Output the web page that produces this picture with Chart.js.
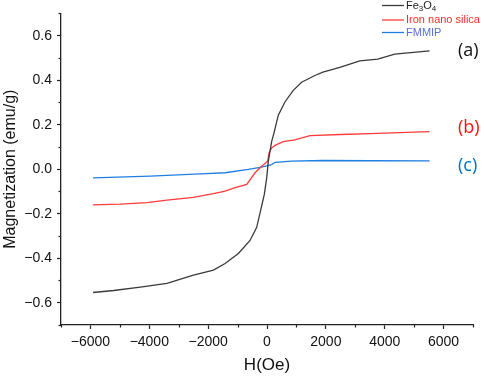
<!DOCTYPE html>
<html lang="en">
<head>
  <meta charset="UTF-8">
  <title>Magnetization curves</title>
  <script src="https://cdn.jsdelivr.net/npm/chart.js"></script>
  <style>
    html, body { margin: 0; padding: 0; background: #fff; }
    #wrap { width: 484px; height: 377px; }
  </style>
</head>
<body>
  <div id="wrap"><canvas id="mh-graph"></canvas></div>

  <script>
    // values (H in Oe, M in emu/g)
    const feH = [-5910, -5210, -4305, -3400, -2500, -1820, -1424, -973, -576, -350, -190, -90, -10, 45, 158, 249, 384, 610, 892, 1176, 1627, 1900, 2475, 3153, 3763, 4340, 5525];
    const feM = [-0.554, -0.545, -0.530, -0.513, -0.476, -0.453, -0.424, -0.379, -0.320, -0.261, -0.170, -0.112, -0.039, 0.036, 0.124, 0.169, 0.243, 0.302, 0.354, 0.391, 0.421, 0.436, 0.458, 0.487, 0.495, 0.517, 0.532];

    const silicaH = [-5910, -4983, -4078, -3400, -2500, -1820, -1424, -1085, -688, -407, -180, 24, 68, 158, 271, 553, 949, 1458, 2500, 3500, 4500, 5525];
    const silicaM = [-0.160, -0.157, -0.150, -0.139, -0.127, -0.110, -0.098, -0.083, -0.068, -0.016, 0.013, 0.036, 0.073, 0.095, 0.107, 0.124, 0.132, 0.151, 0.156, 0.160, 0.164, 0.169];

    const fmmipH = [-5910, -3966, -2271, -1424, -634, -180, 158, 271, 837, 1910, 3500, 5525];
    const fmmipM = [-0.039, -0.031, -0.021, -0.016, -0.001, 0.009, 0.021, 0.031, 0.036, 0.039, 0.038, 0.037];

    const seriesLabels = ['Fe3O4', 'Iron nano silica', 'FMMIP'];
    const seriesTags = ['(a)', '(b)', '(c)'];
    const tagValues = [0.532, 0.169, 0.037];

    const xTicks = [-6000, -4000, -2000, 0, 2000, 4000, 6000];
    const yTicks = [-0.6, -0.4, -0.2, 0.0, 0.2, 0.4, 0.6];

    const lineColors = ['#3a3a3a', '#ff3b3b', '#1f7fe0'];
    const legendTextColors = ['#222222', '#ff2a2a', '#5b6de6'];
    const tagColors = ['#111111', '#ff1010', '#0070c0'];

    function toPoints(xs, ys) {
      return xs.map((x, i) => ({ x: x, y: ys[i] }));
    }

    const minus = s => String(s).replace('-', '\u2212');

    // minor ticks, legend and (a)(b)(c) tags
    const extras = {
      id: 'extras',
      afterDraw(chart) {
        const ctx = chart.ctx;
        const xs = chart.scales.x;
        const ys = chart.scales.y;
        ctx.save();
        ctx.strokeStyle = '#222';
        ctx.lineWidth = 1.2;
        for (let v = -7000; v <= 7000; v += 2000) {
          const px = Math.round(xs.getPixelForValue(v)) + 0.5;
          ctx.beginPath();
          ctx.moveTo(px, xs.top);
          ctx.lineTo(px, xs.top + 2.5);
          ctx.stroke();
        }
        for (let k = -7; k <= 7; k += 2) {
          const py = Math.round(ys.getPixelForValue(k / 10)) + 0.5;
          ctx.beginPath();
          ctx.moveTo(ys.right, py);
          ctx.lineTo(ys.right - 2.5, py);
          ctx.stroke();
        }

        // legend
        const rows = [5.5, 20, 32.5];
        chart.data.datasets.forEach((ds, i) => {
          ctx.strokeStyle = ds.borderColor;
          ctx.lineWidth = 1.3;
          ctx.beginPath();
          ctx.moveTo(382, rows[i]);
          ctx.lineTo(404, rows[i]);
          ctx.stroke();
          ctx.fillStyle = legendTextColors[i];
          ctx.textBaseline = 'middle';
          ctx.textAlign = 'left';
          if (ds.label === 'Fe3O4') {
            let x = 406;
            const parts = [['Fe', 11, 0], ['3', 8, 3], ['O', 11, 0], ['4', 8, 3]];
            parts.forEach(p => {
              ctx.font = p[1] + 'px "Liberation Sans", Arial, sans-serif';
              ctx.fillText(p[0], x, rows[i] + p[2]);
              x += ctx.measureText(p[0]).width;
            });
          } else {
            ctx.font = '11px "Liberation Sans", Arial, sans-serif';
            ctx.fillText(ds.label, 406, rows[i]);
          }
        });

        // series tags on the right
        ctx.font = '18px "Open Sans", "Noto Sans", sans-serif';
        ctx.textAlign = 'left';
        ctx.textBaseline = 'middle';
        const tagOffsets = [0, -4, 5];
        seriesTags.forEach((t, i) => {
          ctx.fillStyle = tagColors[i];
          ctx.fillText(t, 458, ys.getPixelForValue(tagValues[i]) + tagOffsets[i]);
        });
        ctx.restore();
      }
    };

    const ctx = document.getElementById('mh-graph').getContext('2d');
    new Chart(ctx, {
      type: 'line',
      data: {
        datasets: [
          { label: seriesLabels[0], data: toPoints(feH, feM), borderColor: lineColors[0] },
          { label: seriesLabels[1], data: toPoints(silicaH, silicaM), borderColor: lineColors[1] },
          { label: seriesLabels[2], data: toPoints(fmmipH, fmmipM), borderColor: lineColors[2] }
        ]
      },
      options: {
        responsive: true,
        maintainAspectRatio: false,
        animation: false,
        layout: { padding: { top: 11, right: 11, left: 0, bottom: 0 } },
        elements: {
          point: { radius: 0 },
          line: { borderWidth: 1.3, tension: 0 }
        },
        scales: {
          x: {
            type: 'linear',
            min: -7000,
            max: 7000,
            afterBuildTicks: s => { s.ticks = xTicks.map(v => ({ value: v })); },
            afterFit: s => { s.height = 52; },
            border: { color: '#222', width: 1.3 },
            grid: { drawOnChartArea: false, drawTicks: true, tickLength: 4, tickColor: '#222', tickWidth: 1.2 },
            ticks: {
              padding: 5,
              color: '#111',
              font: { family: '"Liberation Sans", Arial, sans-serif', size: 14 },
              callback: v => minus(v)
            },
            title: {
              display: true,
              text: 'H(Oe)',
              color: '#111',
              padding: { top: 0, bottom: 1 },
              font: { family: '"Liberation Sans", Arial, sans-serif', size: 17 }
            }
          },
          y: {
            min: -0.7,
            max: 0.7,
            afterBuildTicks: s => { s.ticks = yTicks.map(v => ({ value: v })); },
            afterFit: s => { s.width = 61; },
            border: { color: '#222', width: 1.3 },
            grid: { drawOnChartArea: false, drawTicks: true, tickLength: 4, tickColor: '#222', tickWidth: 1.2 },
            ticks: {
              padding: 5,
              color: '#111',
              font: { family: '"Liberation Sans", Arial, sans-serif', size: 14 },
              callback: v => minus(Number(v).toFixed(1))
            },
            title: {
              display: true,
              text: 'Magnetization (emu/g)',
              color: '#111',
              padding: { top: 1, bottom: 0 },
              font: { family: '"Liberation Sans", Arial, sans-serif', size: 16 }
            }
          }
        },
        plugins: {
          legend: { display: false },
          tooltip: { enabled: false }
        }
      },
      plugins: [extras]
    });
  </script>
</body>
</html>
